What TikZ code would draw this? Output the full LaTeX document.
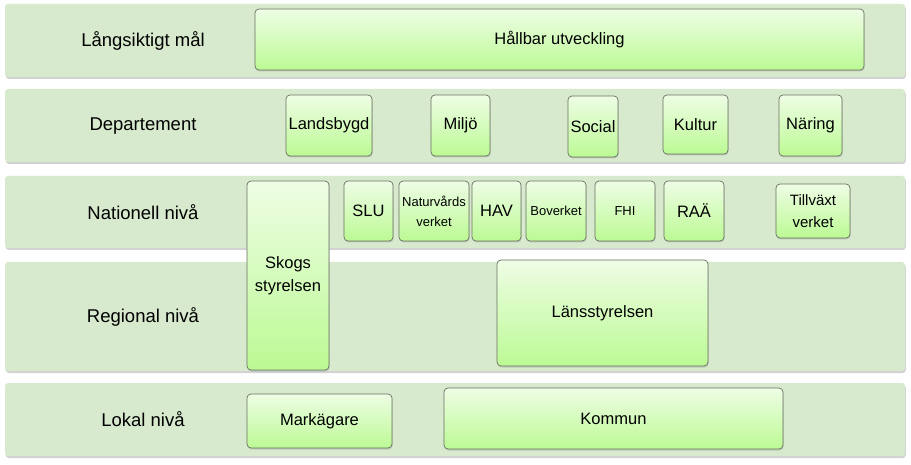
\documentclass[tikz,border=0pt]{standalone}
\usepackage{fontspec}
\setmainfont{Liberation Sans}
\usetikzlibrary{shadows}

\definecolor{bandgreen}{RGB}{216,234,205}
\definecolor{boxtop}{RGB}{238,253,229}
\definecolor{boxbottom}{RGB}{188,250,148}
\definecolor{boxline}{RGB}{105,112,100}

\begin{document}
\begin{tikzpicture}[
  x=1pt, y=-1pt,
  font=\fontsize{16.5}{23}\selectfont,
  band/.style={rounded corners=3pt, fill=bandgreen, inner sep=0pt, outer sep=0pt,
    drop shadow={shadow xshift=0.8pt, shadow yshift=-2pt, opacity=0.35}},
  lvl/.style={font=\fontsize{18.5}{22}\selectfont, inner sep=0pt},
  org/.style={draw=boxline, line width=0.7pt, rounded corners=4pt, align=center,
    top color=boxtop, bottom color=boxbottom, inner sep=0pt, outer sep=0pt,
    drop shadow={shadow xshift=0.6pt, shadow yshift=-1.5pt, opacity=0.3}},
  small/.style={font=\fontsize{13}{20}\selectfont},
  mid/.style={font=\fontsize{15}{22}\selectfont}
]
\useasboundingbox[fill=white] (0,0) rectangle (911,465);

% nivåer
\node[band, minimum width=900, minimum height=73] (goal) at (455,40.5) {};
\node[band, minimum width=900, minimum height=73] (dep) at (455,125.5) {};
\node[band, minimum width=900, minimum height=72] (nat) at (455,212) {};
\node[band, minimum width=900, minimum height=109] (reg) at (455,316.5) {};
\node[band, minimum width=900, minimum height=73] (lok) at (455,419.5) {};

\node[lvl] (goallbl) at (143,41) {Långsiktigt mål};
\node[lvl] (deplbl) at (143,126) {Departement};
\node[lvl] (natlbl) at (143,212) {Nationell nivå};
\node[lvl] (reglbl) at (143,317) {Regional nivå};
\node[lvl] (loklbl) at (143,419) {Lokal nivå};

% mål
\node[org, minimum width=609, minimum height=61] (hallbar) at (559.5,39.5) {Hållbar utveckling};

% departement
\node[org, minimum width=86, minimum height=61] (landsbygd) at (329,125.5) {Landsbygd};
\node[org, minimum width=59, minimum height=61] (miljo) at (460.5,125.5) {Miljö};
\node[org, minimum width=50, minimum height=61] (social) at (593,126.5) {Social};
\node[org, minimum width=65, minimum height=59] (kultur) at (695.5,124.5) {Kultur};
\node[org, minimum width=63, minimum height=61] (naring) at (810.5,125.5) {Näring};

% nationell nivå
\node[org, minimum width=82, minimum height=189] (skogs) at (288,275.5) {Skogs\\styrelsen};
\node[org, minimum width=49, minimum height=60] (slu) at (368.5,211) {SLU};
\node[org, small, minimum width=70, minimum height=60] (nv) at (434,211) {Naturvårds\\verket};
\node[org, minimum width=49, minimum height=60] (hav) at (496.5,211) {HAV};
\node[org, small, minimum width=60, minimum height=60] (boverket) at (556,211) {Boverket};
\node[org, small, minimum width=60, minimum height=60] (fhi) at (625,211) {FHI};
\node[org, minimum width=60, minimum height=60] (raa) at (694,211) {RAÄ};
\node[org, mid, minimum width=74, minimum height=54] (tillvaxt) at (813,211) {Tillväxt\\verket};

% regional nivå
\node[org, minimum width=211, minimum height=106] (lans) at (602.5,313) {Länsstyrelsen};

% lokal nivå
\node[org, minimum width=145, minimum height=54] (markagare) at (319.5,421) {Markägare};
\node[org, minimum width=339, minimum height=61] (kommun) at (613.5,418.5) {Kommun};
\end{tikzpicture}
\end{document}
